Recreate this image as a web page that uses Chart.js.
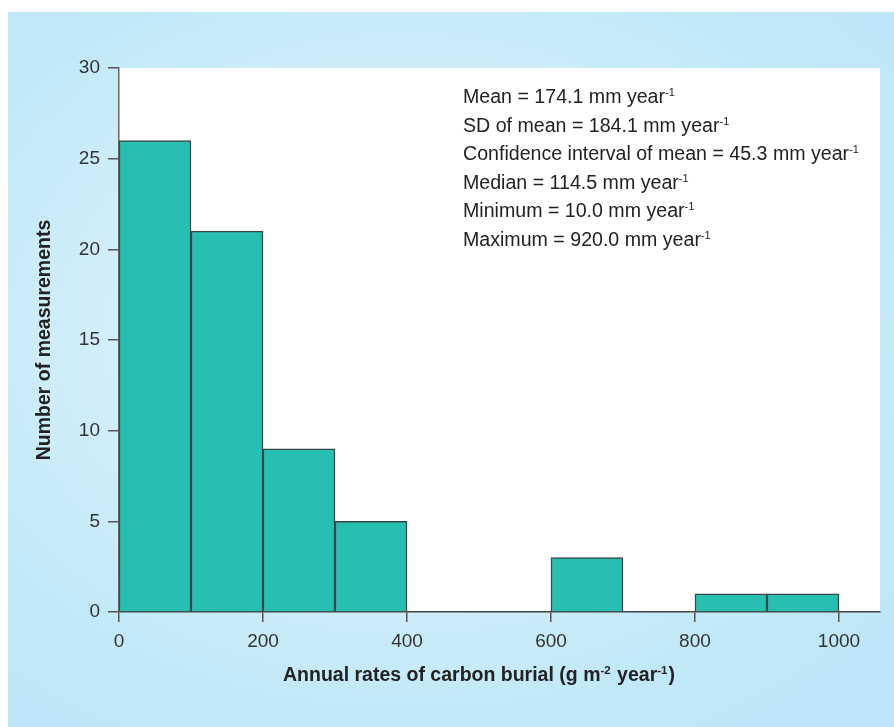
<!DOCTYPE html>
<html>
<head>
<meta charset="utf-8">
<script src="https://cdn.jsdelivr.net/npm/chart.js@4.4.1/dist/chart.umd.min.js"></script>
<style>
  html, body { margin: 0; padding: 0; background: #fff; }
  #panel {
    position: absolute; left: 8px; top: 12px; width: 886px; height: 715px;
    background: radial-gradient(ellipse 70% 65% at 45% 45%, #e4f5fb 0%, #d4eff9 45%, #c2e9f8 80%, #bde7f8 100%);
  }
  #wrap { position: absolute; left: 0; top: 0; width: 894px; height: 727px; }
</style>
</head>
<body>
<div id="panel"></div>
<div id="wrap"><canvas id="chart" width="894" height="727"></canvas></div>
<script>
// histogram bins (centre of each 100-wide bin) and counts
const binCentres = [50, 150, 250, 350, 650, 850, 950];
const counts = [26, 21, 9, 5, 3, 1, 1];
const xTicks = [0, 200, 400, 600, 800, 1000];
const yTicks = [0, 5, 10, 15, 20, 25, 30];

const statLines = [
    ['Mean = 174.1 mm year', '-1'],
    ['SD of mean = 184.1 mm year', '-1'],
    ['Confidence interval of mean = 45.3 mm year', '-1'],
    ['Median = 114.5 mm year', '-1'],
    ['Minimum = 10.0 mm year', '-1'],
    ['Maximum = 920.0 mm year', '-1']
];
const xTitle = [['Annual rates of carbon burial (g m', '-2'], [' year', '-1'], [')', '']];
const yTitle = 'Number of measurements';

const FONT = '"Liberation Sans", Arial, Helvetica, sans-serif';

function partsWidth(ctx, parts, font, supFont) {
    let w = 0;
    parts.forEach(p => {
        ctx.font = font; w += ctx.measureText(p[0]).width;
        if (p[1]) { ctx.font = supFont; w += ctx.measureText(p[1]).width + 1; }
    });
    return w;
}
function drawParts(ctx, parts, x, y, font, supFont, rise) {
    parts.forEach(p => {
        ctx.font = font;
        ctx.fillText(p[0], x, y);
        x += ctx.measureText(p[0]).width;
        if (p[1]) {
            ctx.font = supFont;
            ctx.fillText(p[1], x, y - rise);
            x += ctx.measureText(p[1]).width + 1;
        }
    });
}

const decor = {
    id: 'decor',
    beforeDraw(chart) {
        const {ctx, chartArea} = chart;
        ctx.save();
        ctx.fillStyle = '#ffffff';
        ctx.fillRect(chartArea.left, chartArea.top, chartArea.right - chartArea.left, chartArea.bottom - chartArea.top);
        ctx.restore();
    },
    afterDraw(chart) {
        const {ctx, scales} = chart;
        ctx.save();
        ctx.fillStyle = '#222';
        ctx.textBaseline = 'alphabetic';
        ctx.textAlign = 'left';
        // stats box
        statLines.forEach((l, i) => {
            drawParts(ctx, [l], 463, 103 + i * 28.5, '19.6px ' + FONT, '11px ' + FONT, 7);
        });
        // x title
        const tf = 'bold 19.5px ' + FONT, sf = 'bold 11.5px ' + FONT;
        const cx = (scales.x.getPixelForValue(0) + scales.x.getPixelForValue(1000)) / 2;
        const w = partsWidth(ctx, xTitle, tf, sf);
        drawParts(ctx, xTitle, cx - w / 2, 681, tf, sf, 7);
        // y title
        ctx.translate(50, (chart.chartArea.top + chart.chartArea.bottom) / 2);
        ctx.rotate(-Math.PI / 2);
        ctx.textAlign = 'center';
        ctx.font = tf;
        ctx.fillText(yTitle, 0, 0);
        ctx.restore();
    }
};

new Chart(document.getElementById('chart'), {
    type: 'bar',
    data: {
        datasets: [{
            data: binCentres.map((c, i) => ({x: c, y: counts[i]})),
            backgroundColor: '#26bfb1',
            borderColor: '#3b4747',
            borderWidth: 1.5,
            barPercentage: 1,
            categoryPercentage: 1
        }]
    },
    options: {
        responsive: false,
        devicePixelRatio: 1,
        animation: false,
        layout: { padding: { top: 68, right: 14, left: 0, bottom: 0 } },
        plugins: { legend: { display: false }, tooltip: { enabled: false } },
        scales: {
            x: {
                type: 'linear',
                offset: false,
                min: 0,
                max: 1057,
                afterBuildTicks: s => { s.ticks = xTicks.map(v => ({value: v})); },
                afterFit: s => { s.height = 115; },
                grid: { offset: false, drawOnChartArea: false, tickLength: 10, color: '#555', lineWidth: 1.5 },
                border: { color: '#444', width: 1.5 },
                ticks: { color: '#333', padding: 8, font: { family: FONT, size: 19 }, maxRotation: 0, callback: v => String(v) }
            },
            y: {
                min: 0,
                max: 30,
                afterBuildTicks: s => { s.ticks = yTicks.map(v => ({value: v})); },
                afterFit: s => { s.width = 119; },
                grid: { drawOnChartArea: false, tickLength: 11, color: '#555', lineWidth: 1.5 },
                border: { color: '#666', width: 1.5 },
                ticks: { color: '#333', padding: 8, font: { family: FONT, size: 19 } }
            }
        }
    },
    plugins: [decor]
});
</script>
</body>
</html>
